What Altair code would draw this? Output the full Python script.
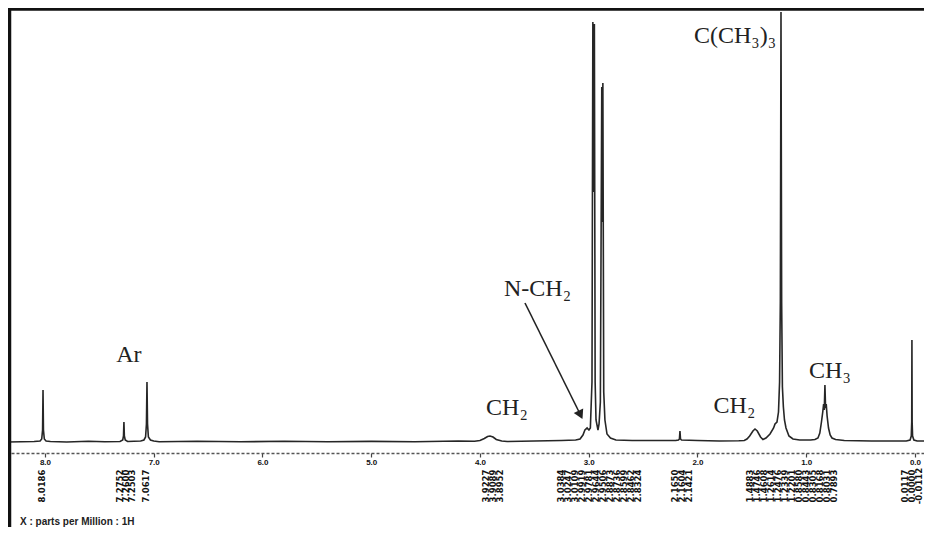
import altair as alt
import pandas as pd

# ---- spectrum trace (ppm, intensity) ----
spec_ppm = [8.34, 8.10, 8.045, 8.030, 8.022, 8.018, 8.014, 8.006, 7.99, 7.95,
            7.80, 7.60, 7.45,
            7.31, 7.285, 7.278, 7.274, 7.270, 7.262, 7.24,
            7.12, 7.09, 7.075, 7.067, 7.062, 7.057, 7.049, 7.03, 7.00, 6.95,
            6.6, 6.2, 5.8, 5.4, 5.0, 4.6, 4.2,
            4.05, 4.00, 3.96, 3.93, 3.908, 3.88, 3.85, 3.80, 3.75,
            3.5, 3.25, 3.12,
            3.08, 3.053, 3.035, 3.015, 2.998, 2.985,
            2.970, 2.962, 2.958, 2.955, 2.952, 2.948, 2.941, 2.933, 2.915,
            2.905, 2.893, 2.880, 2.876, 2.873, 2.870, 2.862, 2.851, 2.832, 2.80, 2.75, 2.60,
            2.40, 2.20,
            2.175, 2.166, 2.161, 2.156, 2.147,
            2.0, 1.8, 1.62, 1.57,
            1.545, 1.52, 1.49, 1.471, 1.45, 1.42, 1.398,
            1.37, 1.333, 1.30, 1.287, 1.269, 1.255, 1.245, 1.238, 1.232, 1.226, 1.219,
            1.21, 1.20, 1.186, 1.159, 1.122, 1.06, 0.96,
            0.92, 0.892, 0.875, 0.86, 0.848, 0.840, 0.834, 0.828, 0.822, 0.816, 0.808,
            0.795, 0.78, 0.763, 0.73, 0.65,
            0.4, 0.2, 0.08,
            0.045, 0.034, 0.030, 0.028, 0.026, 0.022, 0.010, -0.02, -0.083]
spec_int = [0, 0.5, 1, 3, 12, 52, 12, 3, 1, 0.5,
            0, 0.8, 0.3,
            0.5, 2, 6, 20, 6, 2, 0.5,
            1, 2, 5, 18, 60, 18, 5, 2, 1, 0.3,
            0.8, 0.2, 0.7, 0.2, 0.6, 0.3, 1.0,
            0.8, 1.5, 3.5, 5.5, 6, 5, 2.5, 1, 0.5,
            1, 1.5, 2,
            3, 7, 12, 14, 12, 14,
            60, 420, 260, 300, 250, 418, 60, 22, 12,
            18, 40, 355, 220, 260, 359, 50, 22, 8, 4, 2, 1.5,
            1.5, 1.5,
            2, 3, 11, 3, 2,
            1.5, 1, 1.2, 1.5,
            3, 6, 11, 13, 11, 5, 2.5,
            4, 8, 14, 18, 20, 30, 60, 140, 430, 140, 55,
            35, 22, 14, 6, 3, 2, 2,
            2.5, 4, 9, 20, 30, 38, 32, 57, 34, 38, 26,
            14, 7, 4, 2.5, 1.5,
            1, 1, 1,
            2, 6, 20, 102, 20, 6, 2, 1, 1]

# ---- rotated peak-list numbers under the axis ----
plist_ppm = [8.028,
             7.310, 7.255, 7.200,
             7.071,
             3.945, 3.880, 3.816,
             3.255, 3.191, 3.126, 3.062, 2.998, 2.934, 2.869, 2.805, 2.740, 2.676, 2.611, 2.547,
             2.207, 2.143, 2.078,
             1.517, 1.453, 1.389, 1.324, 1.260, 1.195, 1.131, 1.067, 1.002, 0.938, 0.874, 0.809, 0.745,
             0.092, 0.028, -0.037]
plist_text = ["8.0186",
              "7.2752", "7.2600", "7.2503",
              "7.0617",
              "3.9227", "3.9089", "3.8952",
              "3.0384", "3.0247", "3.0109", "2.9919", "2.9781", "2.9644", "2.9506", "2.8873",
              "2.8736", "2.8599", "2.8462", "2.8324",
              "2.1650", "2.1604", "2.1421",
              "1.4883", "1.4746", "1.4608", "1.2614", "1.2476", "1.2339", "1.2201", "0.8580",
              "0.8443", "0.8305", "0.8168", "0.8031", "0.7893",
              "0.0117", "0.0000", "-0.0112"]
plist_level = -44

# ---- annotations ----
ann_text = ["Ar", "CH\u2082", "N-CH\u2082", "C(CH\u2083)\u2083", "CH\u2082", "CH\u2083"]
ann_ppm = [7.228, 3.752, 3.471, 1.655, 1.660, 0.782]
ann_int = [87, 34, 153, 406, 36, 71]

arrow_ppm = [3.586, 3.082]
arrow_int = [139, 28.5]

axis_ticks = [0, 1, 2, 3, 4, 5, 6, 7, 8]

PPM_DOMAIN = [-0.083, 8.340]
INT_DOMAIN = [-11, 434]

W, H = 916, 445

xs = alt.Scale(domain=PPM_DOMAIN, reverse=True, nice=False, zero=False)
ys = alt.Scale(domain=INT_DOMAIN, nice=False, zero=False)
x_axis = alt.Axis(values=axis_ticks, format=".1f", title=None, grid=False,
                  labelFont="Liberation Sans", labelFontWeight="bold", labelFontSize=8,
                  labelColor="#111", labelPadding=1,
                  domainColor="#555", domainWidth=1.5, domainDash=[3, 2],
                  tickColor="#444", tickSize=4, tickWidth=1.2)
X = alt.X("ppm:Q", scale=xs, axis=x_axis)
Y = alt.Y("I:Q", scale=ys, axis=None)

spec_df = pd.DataFrame({"ppm": spec_ppm, "I": spec_int, "idx": list(range(len(spec_ppm)))})
plist_df = pd.DataFrame({"ppm": plist_ppm, "label": plist_text, "I": [plist_level] * len(plist_ppm)})
ann_df = pd.DataFrame({"ppm": ann_ppm, "I": ann_int, "label": ann_text})
arrow_df = pd.DataFrame({"ppm": [arrow_ppm[0]], "I": [arrow_int[0]],
                         "ppm2": [arrow_ppm[1]], "I2": [arrow_int[1]]})
head_df = pd.DataFrame({"ppm": [arrow_ppm[1]], "I": [arrow_int[1]]})
one = pd.DataFrame({"a": [0]})

line = alt.Chart(spec_df).mark_line(color="#262626", strokeWidth=1.6, interpolate="linear").encode(
    x=X, y=Y, order="idx:Q")

plist = alt.Chart(plist_df).mark_text(angle=270, font="DejaVu Sans", fontWeight="bold",
                                       fontSize=8.5, color="#111", align="center",
                                       baseline="middle").encode(
    x=X, y=Y, text="label:N")

ann = alt.Chart(ann_df).mark_text(font="Liberation Serif", fontSize=24, color="#222",
                                  align="center", baseline="middle").encode(
    x=X, y=Y, text="label:N")

arrow = alt.Chart(arrow_df).mark_rule(color="#222", strokeWidth=1.6).encode(
    x=X, y=Y, x2="ppm2:Q", y2="I2:Q")

head = alt.Chart(head_df).mark_point(shape="triangle", filled=True, color="#222", size=110,
                                     angle=154, opacity=1).encode(x=X, y=Y)

left_border = alt.Chart(one).mark_rule(color="#111", strokeWidth=3.5).encode(
    x=alt.value(1.5), y=alt.value(0), y2=alt.value(519))
top_border = alt.Chart(one).mark_rule(color="#111", strokeWidth=3.5).encode(
    x=alt.value(0), x2=alt.value(W), y=alt.value(1))

caption = alt.Chart(one).mark_text(font="Liberation Sans", fontWeight="bold", fontSize=10,
                                   color="#222", align="left", baseline="middle").encode(
    x=alt.value(12), y=alt.value(514), text=alt.value("X : parts per Million : 1H"))

chart = alt.layer(line, plist, ann, arrow, head, left_border, top_border, caption).properties(
    width=W, height=H,
    autosize=alt.AutoSizeParams(type="none"),
    padding={"left": 0, "top": 0, "right": 0, "bottom": 74},
    background="white",
).configure_view(stroke=None)

chart.save("out.html", embed_options={"renderer": "svg", "actions": False})
